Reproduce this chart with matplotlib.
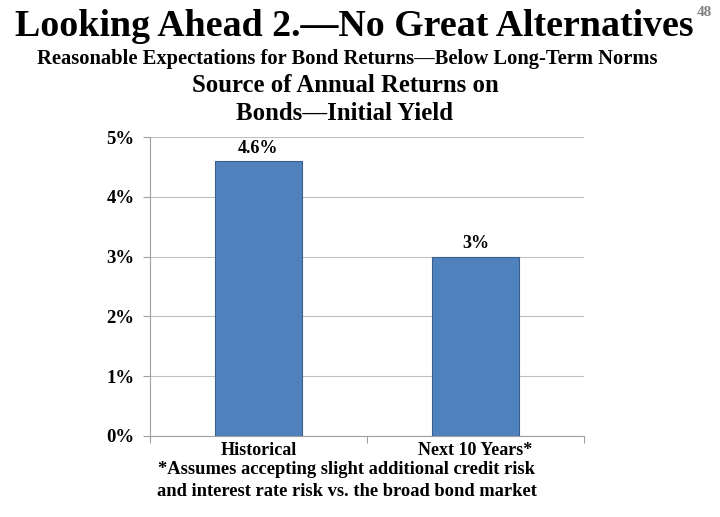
import numpy as np
import matplotlib.pyplot as plt
from matplotlib.ticker import FuncFormatter

categories = ['Historical', 'Next 10 Years*']
returns = [4.6, 3.0]
value_labels = ['4.6%', '3%']

plt.rcParams['font.family'] = 'Liberation Serif'
plt.rcParams['font.weight'] = 'bold'

fig = plt.figure(figsize=(7.2, 5.17), dpi=100)
ax = fig.add_axes([150 / 720, 1 - 436 / 517, 434 / 720, 299 / 517])

x = np.arange(len(categories))
ax.bar(x, returns, width=0.4, color='#4F81BD', edgecolor='#3B5E8C', linewidth=0.8, zorder=3)
for xi, v, lab in zip(x, returns, value_labels):
    ax.text(xi, v + 0.07, lab, ha='center', va='bottom', fontsize=13, fontweight='bold')

ax.set_xlim(-0.5, 1.5)
ax.set_ylim(0, 5)
ax.set_yticks(np.arange(0, 6, 1))
ax.yaxis.set_major_formatter(FuncFormatter(lambda v, p: '%d%%' % v))
ax.grid(axis='y', color='#BFBFBF', linewidth=0.8, zorder=0)
ax.set_xticks([-0.5, 0.5, 1.5])
ax.set_xticklabels([])
ax.tick_params(axis='x', length=5, color='#A0A0A0', direction='out')
ax.tick_params(axis='y', length=5, color='#A0A0A0', labelsize=13.5, pad=6)
for lbl in ax.get_yticklabels():
    lbl.set_fontweight('bold')
for s in ['top', 'right']:
    ax.spines[s].set_visible(False)
for s in ['left', 'bottom']:
    ax.spines[s].set_color('#A0A0A0')
    ax.spines[s].set_linewidth(0.8)

for xi, c in zip(x, categories):
    ax.text(xi, -0.1, c, ha='center', va='top', fontsize=13, fontweight='bold')

fig.text(354 / 720, 1 - 27 / 517, 'Looking Ahead 2.\u2014No Great Alternatives', ha='center', va='center',
         fontsize=27.3, fontweight='bold')
fig.text(704 / 720, 1 - 12 / 517, '48', ha='center', va='center', fontsize=11, color='#808080', fontweight='bold')
fig.text(347 / 720, 1 - 59 / 517, 'Reasonable Expectations for Bond Returns\u2014Below Long-Term Norms',
         ha='center', va='center', fontsize=14.8, fontweight='bold')
fig.text(345 / 720, 1 - 86 / 517, 'Source of Annual Returns on', ha='center', va='center',
         fontsize=17.8, fontweight='bold')
fig.text(345 / 720, 1 - 114 / 517, 'Bonds\u2014Initial Yield', ha='center', va='center',
         fontsize=17.8, fontweight='bold')
fig.text(347 / 720, 1 - 469 / 517, '*Assumes accepting slight additional credit risk', ha='center', va='center',
         fontsize=13.3, fontweight='bold')
fig.text(347 / 720, 1 - 491 / 517, 'and interest rate risk vs. the broad bond market', ha='center', va='center',
         fontsize=13.3, fontweight='bold')

fig.savefig('out.png', dpi=100)
